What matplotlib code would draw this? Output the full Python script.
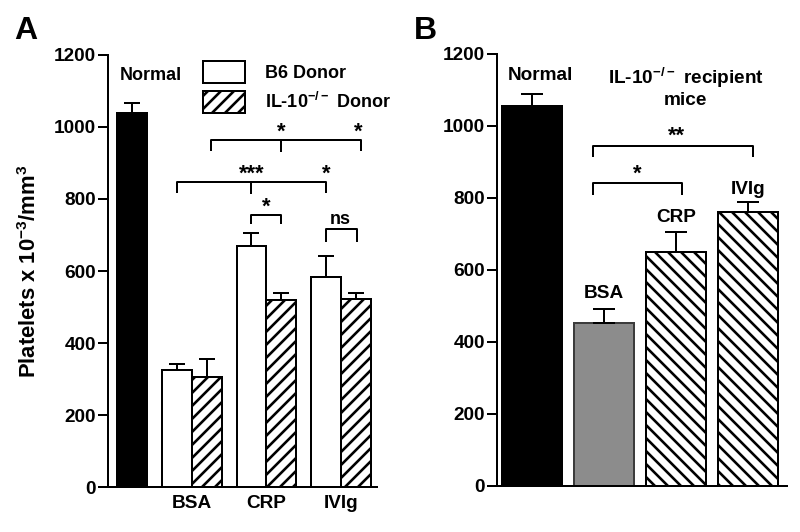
import matplotlib
matplotlib.use('Agg')
import matplotlib.pyplot as plt
from matplotlib.patches import Patch

# hatch spacing is tied to the dpi, so the figure is drawn at 78 dpi
# and every size below is given in pixels and turned into points
DPI = 78


def px(v):
    return v * 72 / DPI


# panel A: donor comparison
normal_a = 1040
normal_a_err = 28
groups_a = ['BSA', 'CRP', 'IVIg']
b6_donor = [326, 670, 583]
b6_err = [17, 36, 58]
il10_donor = [305, 520, 522]
il10_err = [50, 19, 17]

# panel B: IL-10-/- recipient mice
groups_b = ['Normal', 'BSA', 'CRP', 'IVIg']
recipient = [1055, 452, 650, 761]
recipient_err = [33, 39, 56, 28]

plt.rcParams['font.family'] = ['Liberation Sans', 'DejaVu Sans']
plt.rcParams['font.weight'] = 'bold'
plt.rcParams['mathtext.fontset'] = 'custom'
plt.rcParams['mathtext.rm'] = 'Liberation Sans:bold'
plt.rcParams['mathtext.default'] = 'rm'
plt.rcParams['hatch.linewidth'] = px(2.6)

fig = plt.figure(figsize=(800 / DPI, 532 / DPI), dpi=DPI)
axA = fig.add_axes([108 / 800, 45 / 532, 269 / 800, 432 / 532])
axB = fig.add_axes([497 / 800, 46 / 532, 290 / 800, 432 / 532])

lw = px(2)
tick_fs = px(19)
txt_fs = px(18)
star_fs = px(22)


def style(ax):
    for s in ['top', 'right']:
        ax.spines[s].set_visible(False)
    for s in ['left', 'bottom']:
        ax.spines[s].set_linewidth(lw)
    ax.set_ylim(0, 1200)
    ax.set_yticks(range(0, 1201, 200))
    ax.tick_params(axis='y', length=px(10), width=lw, labelsize=tick_fs, pad=px(2))
    ax.tick_params(axis='x', length=0, labelsize=tick_fs, pad=px(8))


def bracket(ax, x0, x1, y, drop, mids=()):
    ax.plot([x0, x0, x1, x1], [y - drop, y, y, y - drop], color='black', lw=lw,
            solid_capstyle='butt', clip_on=False)
    for m in mids:
        ax.plot([m, m], [y - drop, y], color='black', lw=lw, clip_on=False)


def star(ax, x, y, s, fs=star_fs):
    ax.text(x, y, s, ha='center', va='baseline', fontsize=fs, fontweight='bold')


# ---- panel A ----
style(axA)
pos_b6 = [1.5, 4.0, 6.5]
pos_il = [2.5, 5.0, 7.5]
err_kw = dict(ecolor='black', elinewidth=lw, capsize=px(8), capthick=lw)

axA.bar(0, normal_a, width=1.0, color='black', edgecolor='black', lw=lw)
axA.errorbar(0, normal_a, yerr=[[0], [normal_a_err]], fmt='none', **err_kw)
axA.bar(pos_b6, b6_donor, width=1.0, color='white', edgecolor='black', lw=lw)
axA.errorbar(pos_b6, b6_donor, yerr=[[0] * 3, b6_err], fmt='none', **err_kw)
axA.bar(pos_il, il10_donor, width=1.0, color='white', edgecolor='black', lw=lw,
        hatch='//')
axA.errorbar(pos_il, il10_donor, yerr=[[0] * 3, il10_err], fmt='none', **err_kw)

axA.set_xlim(-0.8, 8.2)
axA.set_xticks([2.0, 4.5, 7.0])
axA.set_xticklabels(groups_a)
axA.set_ylabel('Platelets x 10$^{-3}$/mm$^3$', fontsize=px(22), fontweight='bold')
axA.yaxis.set_label_coords(-0.25, 0.5)

axA.text(0.63, 1142, 'Normal', ha='center', va='center', fontsize=txt_fs)

handles = [Patch(facecolor='white', edgecolor='black', lw=lw),
           Patch(facecolor='white', edgecolor='black', lw=lw, hatch='//')]
axA.legend(handles, ['B6 Donor', 'IL-10$^{-/-}$ Donor'], loc='upper left',
           bbox_to_anchor=(0.353, 0.986), frameon=False, fontsize=txt_fs,
           handlelength=2.33, handleheight=1.5, handletextpad=1.1,
           labelspacing=0.45, borderpad=0, borderaxespad=0)

bracket(axA, 2.63, 7.67, 964, 31, mids=[5.0])
star(axA, 5.0, 970, '*')
star(axA, 7.57, 970, '*')
bracket(axA, 1.5, 6.5, 847, 30, mids=[4.0])
star(axA, 4.0, 853, '***')
star(axA, 6.5, 853, '*')
bracket(axA, 4.0, 5.0, 756, 25)
star(axA, 4.5, 762, '*')
bracket(axA, 6.5, 7.53, 717, 36)
axA.text(6.97, 730, 'ns', ha='center', va='baseline', fontsize=txt_fs)

fig.text(14 / 800, 1 - 39 / 532, 'A', fontsize=px(32), fontweight='bold')

# ---- panel B ----
style(axB)
xb = range(len(groups_b))
fills = ['black', '#8c8c8c', 'white', 'white']
edges = ['black', '#3c3c3c', 'black', 'black']
hatches = [None, None, '\\\\', '\\\\']
for x, v, fc, ec, h in zip(xb, recipient, fills, edges, hatches):
    axB.bar(x, v, width=0.84, color=fc, edgecolor=ec, lw=lw, hatch=h)
axB.errorbar(list(xb), recipient, yerr=[[0] * 4, recipient_err], fmt='none',
             ecolor='black', elinewidth=lw, capsize=px(11), capthick=lw)
axB.set_xlim(-0.49, 3.54)
axB.set_xticks([])

axB.text(0.11, 1139, 'Normal', ha='center', va='center', fontsize=px(19))
axB.text(2.13, 1106, 'IL-10$^{-/-}$ recipient\nmice', ha='center', va='center',
         fontsize=px(19), linespacing=1.15)
axB.text(1.0, 536, 'BSA', ha='center', va='center', fontsize=px(19))
axB.text(2.0, 747, 'CRP', ha='center', va='center', fontsize=px(19))
axB.text(3.0, 825, 'IVIg', ha='center', va='center', fontsize=px(19))

bracket(axB, 0.85, 3.07, 944, 30)
star(axB, 2.01, 955, '**')
bracket(axB, 0.85, 2.08, 842, 34)
star(axB, 1.46, 850, '*')

fig.text(414 / 800, 1 - 39 / 532, 'B', fontsize=px(32), fontweight='bold')

fig.savefig('out.png', dpi=DPI, facecolor='white')
